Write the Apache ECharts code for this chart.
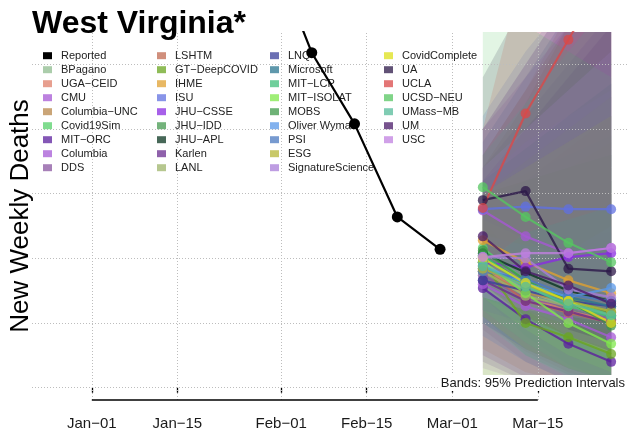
<!DOCTYPE html>
<html><head><meta charset="utf-8">
<script src="https://cdn.jsdelivr.net/npm/echarts@6/dist/echarts.min.js"></script>
<style>html,body{margin:0;padding:0;background:#fff}#c{width:628px;height:436px}</style>
</head><body><div id="c"></div>
<script>
const FONT = "'Liberation Sans', Arial, Helvetica, sans-serif";
const chartTitle = 'West Virginia*';
const yName = 'New Weekly Deaths';
const bandNote = 'Bands: 95% Prediction Intervals';
const tickDates = ['2021-01-01','2021-01-15','2021-02-01','2021-02-15','2021-03-01','2021-03-15'];
const gridValues = [0, 50, 100, 150, 200, 250];
const reportedDates = ['2021-01-30','2021-02-06','2021-02-13','2021-02-20','2021-02-27'];
const reportedValues = [343, 259, 204, 132, 107];
const forecastDates = ['2021-03-06','2021-03-13','2021-03-20','2021-03-27'];
const models = ['BPagano','UGA\u2212CEID','CMU','Columbia\u2212UNC','Covid19Sim','MIT\u2212ORC','Columbia','DDS',
  'LSHTM','GT\u2212DeepCOVID','IHME','ISU','JHU\u2212CSSE','JHU\u2212IDD','JHU\u2212APL','Karlen','LANL',
  'LNQ','Microsoft','MIT\u2212LCP','MIT\u2212ISOLAT','MOBS','Oliver Wyman','PSI','ESG','SignatureScience',
  'CovidComplete','UA','UCLA','UCSD\u2212NEU','UMass\u2212MB','UM','USC'];
const modelColors = ['#8fbc8f','#df7f6a','#a657d4','#b8874a','#55d06a','#5b1f9e','#a55ad6','#8a55a0',
  '#c06a50','#6aa520','#e0a030','#6070e0','#8a2be2','#459a50','#0a3520','#6a2c8f','#9db46a',
  '#3a3f9a','#2a7590','#3fbf7a','#7fe84a','#3d9848','#5a98e8','#4a78c0','#b5b535','#a87cd8',
  '#dde01a','#2c1848','#d94848','#55c560','#55bb9a','#4a1a68','#c080e0'];
const forecastPoint = [
  [97,75,63,53],[94,71,59,52],[137,117,104,108],[90,73,67,58],[108,83,67,56],[77,53,34,20],[80,63,53,39],[87,69,63,53],
  [92,67,58,50],[97,50,39,26],[114,97,83,73],[138,140,138,138],[97,93,101,104],[102,80,69,58],[104,89,75,67],[83,67,59,50],[90,71,63,56],
  [83,75,67,63],[92,81,70,63],[102,79,63,55],[97,73,50,34],[106,83,67,48],[94,81,70,77],[90,84,72,67],[92,79,67,59],[101,100,76,70],
  [100,81,67,50],[145,152,92,90],[139,212,269,327],[155,132,112,97],[94,78,65,56],[117,90,79,65],[101,104,104,108]];
const forecastLower = [
  [75,52,38,28],[50,28,12,3],[95,70,52,45],[55,30,15,5],[70,40,18,5],[20,5,0,0],[15,5,0,0],[45,20,5,0],
  [30,12,5,2],[10,0,0,0],[100,82,66,55],[95,85,75,65],[60,50,48,45],[55,25,10,3],[80,60,45,35],[25,8,2,0],[8,3,0,0],
  [50,30,15,5],[70,55,40,30],[60,35,15,5],[70,45,25,12],[80,55,35,20],[75,60,48,45],[40,20,5,0],[55,30,15,5],[70,60,40,30],
  [78,55,40,25],[95,90,45,35],[95,120,130,140],[110,85,65,50],[50,25,8,0],[80,55,40,28],[70,60,55,50]];
const forecastUpper = [
  [135,150,170,190],[180,230,290,350],[200,240,280,320],[170,220,280,340],[150,165,180,195],[95,70,52,36],[120,115,118,120],[170,210,250,290],
  [180,230,280,330],[130,90,85,80],[140,135,130,130],[210,260,300,340],[160,185,210,235],[170,200,230,260],[150,160,170,180],[160,200,240,280],[130,140,150,160],
  [140,160,185,210],[150,175,200,225],[150,170,190,210],[130,115,95,85],[160,185,210,235],[118,110,105,125],[190,240,290,330],[150,175,200,225],[160,190,210,230],
  [150,170,190,210],[240,300,300,320],[200,330,450,600],[300,280,260,240],[180,220,260,300],[200,250,300,350],[170,200,230,260]];

const ts = d => Date.parse(d + 'T00:00:00Z');
const DAY = 864e5;
const X_MIN = ts('2021-01-01') - 9.79 * DAY;
const X_MAX = ts('2021-01-01') + 87.76 * DAY;
const Y_MIN = -9.5, Y_MAX = 275;
const MONTHS = ['Jan','Feb','Mar','Apr','May','Jun','Jul','Aug','Sep','Oct','Nov','Dec'];
const fmtDate = v => { const d = new Date(v); return MONTHS[d.getUTCMonth()] + '\u2212' + String(d.getUTCDate()).padStart(2, '0'); };
const hexA = (hex, a) => { const n = parseInt(hex.slice(1), 16); return `rgba(${n>>16&255},${n>>8&255},${n&255},${a})`; };

const series = [];
series.push({
  type: 'custom', name: 'bands', clip: true, silent: true, z: 1,
  data: models.map((m, i) => [i]),
  encode: { x: -1, y: -1 },
  renderItem: (params, api) => {
    const i = params.dataIndex;
    const pts = [];
    forecastDates.forEach((d, k) => pts.push(api.coord([ts(d), forecastUpper[i][k]])));
    for (let k = forecastDates.length - 1; k >= 0; k--) pts.push(api.coord([ts(forecastDates[k]), forecastLower[i][k]]));
    return { type: 'polygon', shape: { points: pts }, style: { fill: hexA(modelColors[i], 0.17) } };
  }
});
series.push({
  type: 'line', name: 'gridlines', silent: true, z: 2, symbol: 'none', data: [],
  markLine: {
    silent: true, symbol: ['none','none'], label: { show: false }, z: 2,
    lineStyle: { color: '#bdbdbd', type: [1, 2], width: 1 },
    emphasis: { disabled: true },
    data: tickDates.map(d => ({ xAxis: ts(d) })).concat(gridValues.map(v => ({ yAxis: v })))
  }
});
series.push({
  type: 'line', name: 'axisline', silent: true, clip: false, z: 5, symbol: 'none',
  lineStyle: { color: '#000', width: 1.5 },
  data: [[ts(tickDates[0]), Y_MIN], [ts(tickDates[tickDates.length - 1]), Y_MIN]]
});
models.forEach((m, i) => {
  series.push({
    type: 'line', name: m, z: 3, symbol: 'circle', symbolSize: 10,
    lineStyle: { color: modelColors[i], width: 2.2, opacity: 0.8 },
    itemStyle: { color: modelColors[i], opacity: 0.75 },
    data: forecastDates.map((d, k) => [ts(d), forecastPoint[i][k]])
  });
});
series.push({
  type: 'line', name: 'Reported', z: 6, symbol: 'circle', symbolSize: 11,
  lineStyle: { color: '#000', width: 2.2 }, itemStyle: { color: '#000' },
  data: reportedDates.map((d, k) => [ts(d), reportedValues[k]])
});

const colItems = [['Reported'].concat(models.slice(0, 8)), models.slice(8, 17), models.slice(17, 26), models.slice(26)];
const colLeft = [43, 157, 270, 384];
const legends = colItems.map((items, c) => ({
  data: items.map(n => ({ name: n, icon: 'rect' })),
  orient: 'vertical', left: colLeft[c], top: 48.7, padding: 0,
  itemWidth: 9, itemHeight: 7, itemGap: 0, selectedMode: false,
  textStyle: { fontFamily: FONT, fontSize: 11, color: '#222', lineHeight: 14, padding: [0, 0, 0, 4] }
}));

const chart = echarts.init(document.getElementById('c'), null, { renderer: 'canvas' });
chart.setOption({
  animation: false,
  backgroundColor: '#fff',
  color: ['#000'].concat(modelColors),
  title: [
    { text: chartTitle, left: 32, top: 8, padding: 0, textStyle: { fontFamily: FONT, fontSize: 32, fontWeight: 'bold', color: '#000' } },
    { text: bandNote, right: 1, top: 375, padding: [2, 2, 1, 3], backgroundColor: '#fff', textStyle: { fontFamily: FONT, fontSize: 13, fontWeight: 'normal', color: '#1a1a1a' } }
  ],
  legend: legends,
  grid: { left: 32, right: 0, top: 32, bottom: 36, containLabel: false, outerBoundsMode: 'none' },
  xAxis: {
    type: 'value', min: X_MIN, max: X_MAX, scale: true,
    axisLine: { show: false },
    splitLine: { show: false },
    axisTick: { show: true, customValues: tickDates.map(ts), length: 5, lineStyle: { color: '#000', width: 1.3 } },
    axisLabel: { show: true, customValues: tickDates.map(ts), margin: 16, formatter: v => fmtDate(v), fontFamily: FONT, fontSize: 15, color: '#1a1a1a', hideOverlap: false }
  },
  yAxis: {
    type: 'value', min: Y_MIN, max: Y_MAX,
    axisLine: { show: false }, axisTick: { show: false }, axisLabel: { show: false }, splitLine: { show: false },
    name: yName, nameLocation: 'middle', nameRotate: 90, nameGap: -2,
    nameTextStyle: { fontFamily: FONT, fontSize: 26, color: '#000' }
  },
  series: series
});
</script></body></html>
